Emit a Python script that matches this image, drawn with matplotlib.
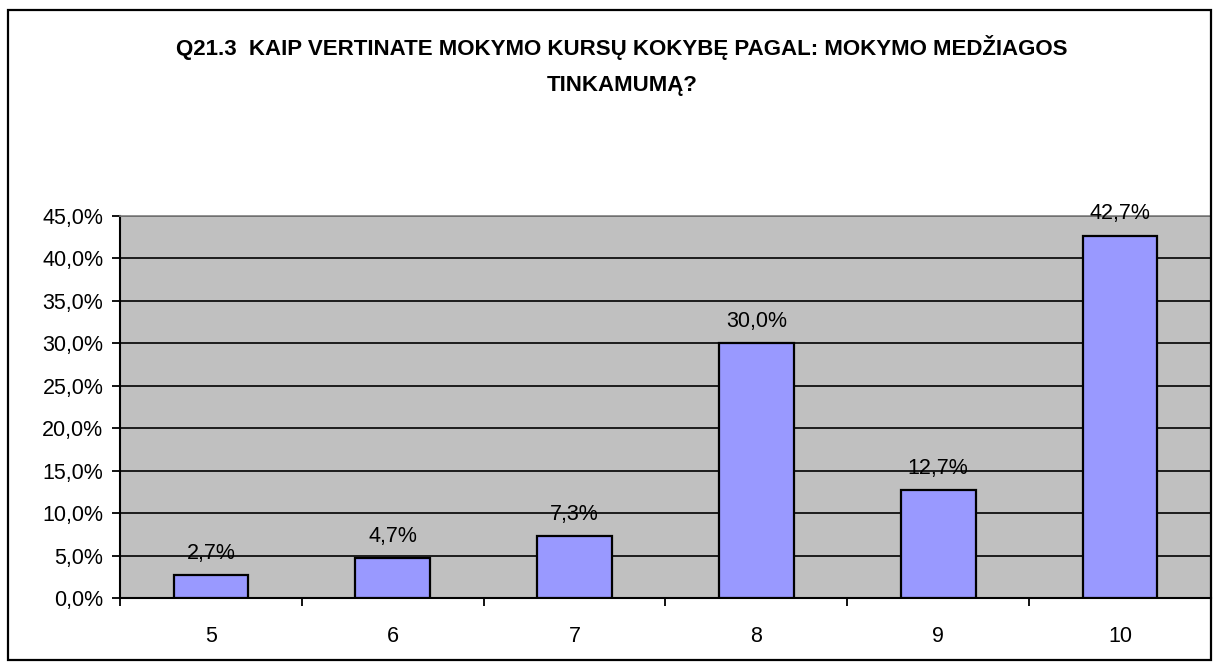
import numpy as np
import matplotlib.pyplot as plt
from matplotlib.patches import Rectangle

categories = ['5', '6', '7', '8', '9', '10']
values = [2.7, 4.7, 7.3, 30.0, 12.7, 42.7]
y_ticks = [0, 5, 10, 15, 20, 25, 30, 35, 40, 45]

plt.rcParams['font.family'] = ['Liberation Sans', 'DejaVu Sans']

fig = plt.figure(figsize=(12.19, 6.66), dpi=100)
ax = fig.add_axes([120/1219, 68/666, 1091/1219, 382/666])

# outer chart border
fig.patches.append(Rectangle((8/1219, 6/666), 1203/1219, 650/666, transform=fig.transFigure,
                             fill=False, edgecolor='black', linewidth=1.6))

x = np.arange(len(categories))
ax.set_facecolor('#C0C0C0')
ax.bar(x, values, width=0.41, color='#9999FF', edgecolor='black', linewidth=1.6, zorder=3)

for xi, v in zip(x, values):
    ax.annotate(f'{v:.1f}%'.replace('.', ','), (xi, v), xytext=(0, 8), textcoords='offset points',
                ha='center', va='bottom', fontsize=15.5, zorder=4, annotation_clip=False)

ax.set_xlim(-0.5, len(categories) - 0.5)
ax.set_ylim(0, 45)
ax.set_yticks(y_ticks)
ax.set_yticklabels([f'{t:.1f}%'.replace('.', ',') for t in y_ticks], fontsize=15.5)
ax.yaxis.grid(True, color='black', linewidth=1.2, zorder=1)
ax.set_axisbelow(True)

ax.set_xticks(x)
ax.set_xticklabels(categories, fontsize=15.5)
ax.set_xticks(np.arange(-0.5, len(categories) + 0.5, 1), minor=True)
ax.tick_params(axis='x', which='major', length=0, pad=20)
ax.tick_params(axis='x', which='minor', length=6, width=1.3, direction='out')
ax.tick_params(axis='y', length=6, width=1.3, direction='out', pad=6)

for s in ['top', 'right']:
    ax.spines[s].set_color('#808080')
    ax.spines[s].set_linewidth(1.2)
for s in ['left', 'bottom']:
    ax.spines[s].set_linewidth(1.5)

fig.text(0.51, 1 - 48/666, 'Q21.3  KAIP VERTINATE MOKYMO KURSŲ KOKYBĘ PAGAL: MOKYMO MEDŽIAGOS',
         ha='center', va='center', fontsize=16, fontweight='bold')
fig.text(0.51, 1 - 85/666, 'TINKAMUMĄ?', ha='center', va='center', fontsize=16, fontweight='bold')

fig.savefig('out.png', dpi=100)
